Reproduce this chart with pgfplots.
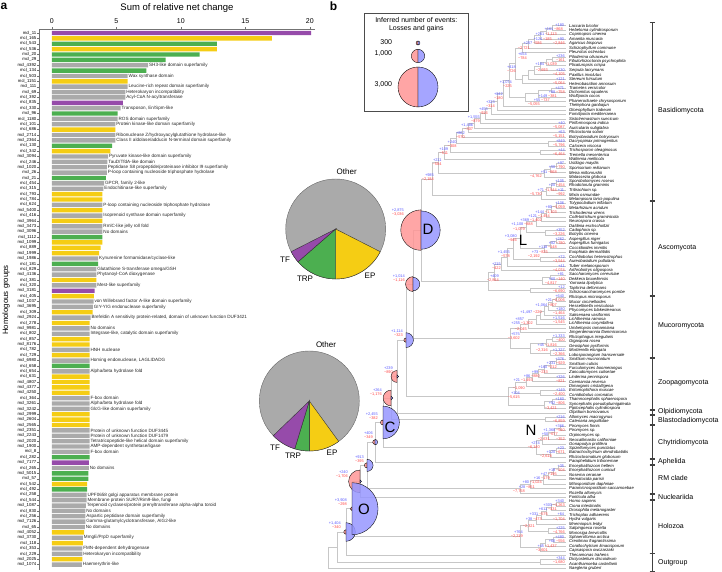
\documentclass[border=0pt]{standalone}
\usepackage{pgfplots}
\pgfplotsset{compat=1.18}
\usepackage{fontspec}
\setmainfont{Liberation Sans}
\definecolor{cP}{RGB}{150,75,170}
\definecolor{cY}{RGB}{245,205,20}
\definecolor{cG}{RGB}{76,175,80}
\definecolor{cGr}{RGB}{170,170,170}
\definecolor{pieR}{RGB}{255,150,150}
\definecolor{pieB}{RGB}{150,150,255}
\definecolor{txB}{RGB}{90,90,255}
\definecolor{txR}{RGB}{255,70,70}
\newcommand\fs[1]{\fontsize{#1}{#1}\selectfont}
\newcommand\ty[1]{\csname tipy#1\endcsname}
\def\TX{566}
\tikzset{tree/.style={draw=black!22,line width=0.5pt}}
\newcommand\clade[3]{%
  \xdef\cy{#1}\xdef\cx{#2}%
  \foreach \uy/\ux/\jx in {#3}{%
    \draw[tree] (\jx,\cy) -- (\cx,\cy);
    \draw[tree] (\jx,\uy) -- (\ux,\uy);
    \draw[tree] (\jx,\cy) -- (\jx,\uy);
    \pgfmathsetmacro\ny{(\cy+\uy)/2}%
    \coordinate (j\jx) at (\jx,\ny);
    \xdef\cy{\ny}\xdef\cx{\jx}%
  }%
}
\newcommand\save[1]{\expandafter\xdef\csname #1Y\endcsname{\cy}\expandafter\xdef\csname #1X\endcsname{\cx}}
\newcommand\nl[4]{\node[anchor=east,inner sep=0pt,text=txB,font=\fs{3.9}] at (#1,#2) {#3};\node[anchor=east,inner sep=0pt,text=txR,font=\fs{3.9}] at (#1,#2+4.2) {#4};}
\newcommand\nlh[4]{\node[anchor=east,inner sep=0pt,font=\fs{3.9}] at (#1,#2) {\textcolor{txB}{#3}\,\textcolor{txR}{#4}};}
\newcommand\npie[3]{%
  \pgfmathsetmacro\rl{#3/150}\pgfmathsetmacro\rg{#2/150}%
  \filldraw[fill=pieR,draw=black,line width=0.35pt,fill opacity=0.85] (#1) -- ++(90:{\rl pt}) arc[start angle=90,end angle=270,radius={\rl pt}] -- cycle;
  \filldraw[fill=pieB,draw=black,line width=0.35pt,fill opacity=0.85] (#1) -- ++(-90:{\rg pt}) arc[start angle=-90,end angle=90,radius={\rg pt}] -- cycle;
}
\newcommand\bpie[5]{%
  \pgfmathsetmacro\aE{-90+#3*3.6}\pgfmathsetmacro\aT{-90-#4*3.6}\pgfmathsetmacro\aF{\aT-#5*3.6}%
  \filldraw[fill=cGr,draw=black!60,line width=0.4pt] (#1,#2) circle[radius=50pt];
  \filldraw[fill=cY,draw=black!80,line width=0.4pt] (#1,#2) -- ++(-90:50pt) arc[start angle=-90,end angle=\aE,radius=50pt] -- cycle;
  \filldraw[fill=cG,draw=black!80,line width=0.4pt] (#1,#2) -- ++(\aT:50pt) arc[start angle=\aT,end angle=-90,radius=50pt] -- cycle;
  \filldraw[fill=cP,draw=black!80,line width=0.4pt] (#1,#2) -- ++(\aF:50pt) arc[start angle=\aF,end angle=\aT,radius=50pt] -- cycle;
}
\newcommand\brk[4]{%
  \draw[black!75,line width=0.6pt] (652,#1) -- (652,#2) (649.5,#1) -- (654.5,#1) (649.5,#2) -- (654.5,#2);
  \node[anchor=west,font=\fs{7},inner sep=0pt] at (658,#4) {#3};}
\begin{document}
\begin{tikzpicture}
\useasboundingbox (0,0) rectangle (722pt,572pt);
\begin{axis}[
  at={(39pt,2pt)}, anchor=south west,
  scale only axis, width=276pt, height=540.7pt,
  xmin=-1, xmax=20.4, ymin=-101, ymax=-0.31,
  axis x line*=top, axis y line*=left,
  xtick={0,5,10,15,20},
  ytick={-1,-2,...,-100},
  yticklabels={mcl\_11,mcl\_165,mcl\_543,mcl\_536,mcl\_20,mcl\_29,mcl\_4392,mcl\_134,mcl\_503,mcl\_1151,mcl\_111,mcl\_69,mcl\_392,mcl\_835,mcl\_330,mcl\_96,mcl\_1180,mcl\_101,mcl\_686,mcl\_2714,mcl\_2364,mcl\_130,mcl\_342,mcl\_3094,mcl\_246,mcl\_1020,mcl\_26,mcl\_21,mcl\_454,mcl\_315,mcl\_793,mcl\_784,mcl\_624,mcl\_5400,mcl\_416,mcl\_3964,mcl\_3473,mcl\_3096,mcl\_1112,mcl\_1099,mcl\_889,mcl\_1999,mcl\_1986,mcl\_181,mcl\_829,mcl\_4136,mcl\_381,mcl\_320,mcl\_3181,mcl\_405,mcl\_1037,mcl\_3695,mcl\_309,mcl\_2924,mcl\_278,mcl\_9981,mcl\_802,mcl\_857,mcl\_8176,mcl\_782,mcl\_729,mcl\_6980,mcl\_658,mcl\_654,mcl\_631,mcl\_4807,mcl\_4377,mcl\_4250,mcl\_364,mcl\_3261,mcl\_3242,mcl\_2999,mcl\_2604,mcl\_2565,mcl\_2351,mcl\_2243,mcl\_2020,mcl\_1900,mcl\_8,mcl\_282,mcl\_7177,mcl\_265,mcl\_5015,mcl\_57,mcl\_542,mcl\_492,mcl\_258,mcl\_544,mcl\_1087,mcl\_830,mcl\_256,mcl\_7126,mcl\_65,mcl\_4052,mcl\_3730,mcl\_118,mcl\_353,mcl\_229,mcl\_2025,mcl\_1074},
  tick align=outside, major tick length=2pt,
  xticklabel style={font=\fs{7}},
  yticklabel style={font=\fs{4.3}, inner sep=0.5pt},
  /pgf/number format/assume math mode=true,
  axis line style={black!55, line width=0.4pt},
  tick style={black!55, line width=0.35pt},
  clip=false,
]
\addplot[xbar, bar width=4.4pt, bar shift=0pt, fill=cP, draw=none] coordinates {(20.1,-1) (5.51,-14) (3.31,-49) (2.87,-81)};
\addplot[xbar, bar width=4.4pt, bar shift=0pt, fill=cY, draw=none] coordinates {(17.05,-2) (12.8,-4) (5.87,-10) (4.92,-19) (4.54,-23) (3.92,-31) (3.92,-32) (3.92,-34) (3.92,-36) (3.92,-40) (3.77,-41) (3.67,-42) (3.44,-47) (3.26,-50) (3.15,-53) (2.92,-55) (2.92,-58) (2.92,-59) (2.92,-61) (2.92,-65) (2.92,-66) (2.92,-67) (2.92,-68) (2.92,-72) (2.92,-73) (2.92,-74) (2.74,-85) (2.49,-94) (2.41,-96) (2.36,-99)};
\addplot[xbar, bar width=4.4pt, bar shift=0pt, fill=cG, draw=none] coordinates {(12.8,-3) (11.46,-5) (8.82,-6) (7.33,-8) (5.1,-16) (4.67,-22) (4.18,-28) (3.92,-39) (3.59,-44) (2.92,-63) (2.92,-80) (2.82,-83) (2.82,-84) (2.74,-86)};
\addplot[xbar, bar width=4.4pt, bar shift=0pt, fill=cGr, draw=none, point meta=explicit symbolic, nodes near coords, nodes near coords style={anchor=west, font=\fs{4.6}, inner sep=0.8pt, text=black!85}] coordinates {
(7.46,-7) [SH3-like domain superfamily]
(5.87,-9) [Wax synthase domain]
(5.87,-11) [Leucine-rich repeat domain superfamily]
(5.69,-12) [Heterokaryon incompatibility]
(5.69,-13) [Acyl-CoA N-acyltransferase]
(5.33,-15) [Transposon, En/Spm-like]
(5.1,-17) [ROS domain superfamily]
(4.92,-18) [Protein kinase-like domain superfamily]
(4.92,-20) [Ribonuclease Z/hydroxyacylglutathione hydrolase-like]
(4.92,-21) [Class II aldolase/adducin N-terminal domain superfamily]
(4.36,-24) [Pyruvate kinase-like domain superfamily]
(4.31,-25) [TauD/TfdA-like domain]
(4.26,-26) [Peptidase S8 propeptide/proteinase inhibitor I9 superfamily]
(4.26,-27) [P-loop containing nucleoside triphosphate hydrolase]
(4.05,-29) [GPCR, family 2-like]
(4.0,-30) [Endochitinase-like superfamily]
(3.92,-33) [P-loop containing nucleoside triphosphate hydrolase]
(3.92,-35) [Isoprenoid synthase domain superfamily]
(3.92,-37) [RmlC-like jelly roll fold]
(3.92,-38) [No domains]
(3.59,-43) [Kynurenine formamidase/cyclase-like]
(3.44,-45) [Glutathione S-transferase omega/GSH]
(3.44,-46) [Phytanoyl-CoA dioxygenase]
(3.44,-48) [Mest-like superfamily]
(3.23,-51) [von Willebrand factor A-like domain superfamily]
(3.18,-52) [GIY-YIG endonuclease superfamily]
(3.0,-54) [Brefeldin A sensitivity protein-related, domain of unknown function DUF3421]
(2.92,-56) [No domains]
(2.92,-57) [Integrase-like, catalytic domain superfamily]
(2.92,-60) [HNH nuclease]
(2.92,-62) [Homing endonuclease, LAGLIDADG]
(2.92,-64) [Alpha/beta hydrolase fold]
(2.92,-69) [F-box domain]
(2.92,-70) [Alpha/beta hydrolase fold]
(2.92,-71) [GlcG-like domain superfamily]
(2.92,-75) [Protein of unknown function DUF3445]
(2.92,-76) [Protein of unknown function DUF1479]
(2.92,-77) [Tetratricopeptide-like helical domain superfamily]
(2.92,-78) [AMP-dependent synthetase/ligase]
(2.92,-79) [F-box domain]
(2.87,-82) [No domains]
(2.69,-87) [UPF0658 golgi apparatus membrane protein]
(2.69,-88) [Membrane protein SUR7/Rim9-like, fungi]
(2.64,-89) [Terpenoid cyclases/protein prenyltransferase alpha-alpha toroid]
(2.59,-90) [No domains]
(2.59,-91) [Aspartic peptidase domain superfamily]
(2.59,-92) [Gamma-glutamylcyclotransferase, AIG2-like]
(2.56,-93) [No domains]
(2.41,-95) [MmgE/PrpD superfamily]
(2.36,-97) [FMN-dependent dehydrogenase]
(2.36,-98) [Heterokaryon incompatibility]
(2.33,-100) [Haemerythrin-like]
};
\end{axis}
\begin{scope}[x=1pt,y=-1pt,yshift=572pt]
\foreach \i in {1,...,123}{\pgfmathsetmacro\t{25.7+(\i-1)*4.45}\expandafter\xdef\csname tipy\i\endcsname{\t}}
% ---- panel a texts and pies
\node[font=\fs{12}\bfseries,inner sep=0pt] at (4,6.5) {a};
\node[font=\fs{9.5},inner sep=0pt] at (177,8) {Sum of relative net change};
\node[font=\fs{7.8},rotate=90,inner sep=0pt] at (6,300) {Homologous groups};
\bpie{335.7}{229}{17.5}{13.6}{3.9}
\bpie{309.3}{401}{10}{4.7}{8.1}
\node[font=\fs{8},inner sep=0pt] at (346.7,172) {Other};
\node[font=\fs{8},inner sep=0pt] at (285,260) {TF};
\node[font=\fs{8},inner sep=0pt] at (305,279) {TRP};
\node[font=\fs{8},inner sep=0pt] at (370,276) {EP};
\node[font=\fs{8},inner sep=0pt] at (326,345) {Other};
\node[font=\fs{8},inner sep=0pt] at (275,448) {TF};
\node[font=\fs{8},inner sep=0pt] at (293,456) {TRP};
\node[font=\fs{8},inner sep=0pt] at (332,453) {EP};
% ---- panel b
\node[font=\fs{12}\bfseries,inner sep=0pt] at (333.5,6) {b};
% Basidiomycota
\clade{\ty{1}}{\TX}{\ty{2}/\TX/552, \ty{3}/\TX/546, \ty{4}/\TX/540, \ty{5}/\TX/534, \ty{6}/\TX/528, \ty{7}/\TX/522}\save{Aga}
\clade{\ty{8}}{\TX}{\ty{9}/\TX/552, \ty{10}/\TX/546, \ty{11}/\TX/540, \ty{12}/\TX/534, \ty{13}/\TX/528, \ty{14}/\TX/522}\save{Ge}
\clade{\ty{15}}{\TX}{\ty{16}/\TX/551, \ty{17}/\TX/538, \ty{18}/\TX/525}\save{Gf}
\clade{\AgaY}{\AgaX}{\GeY/\GeX/515, \GfY/\GfX/509, \ty{19}/\TX/503, \ty{20}/\TX/497, \ty{21}/\TX/491, \ty{22}/\TX/485}\save{Am}
\clade{\ty{27}}{\TX}{\ty{28}/\TX/548}\save{Da}
\clade{\ty{29}}{\TX}{\ty{30}/\TX/540}\save{Tr}
\clade{\ty{32}}{\TX}{\ty{33}/\TX/556, \ty{34}/\TX/550, \ty{35}/\TX/544}\save{Us}
\clade{\ty{36}}{\TX}{\ty{37}/\TX/556, \ty{38}/\TX/551, \ty{39}/\TX/546, \ty{40}/\TX/541}\save{Pu}
\clade{\AmY}{\AmX}{\ty{23}/\TX/480, \ty{24}/\TX/474, \ty{25}/\TX/468, \ty{26}/\TX/462, \DaY/\DaX/456, \TrY/\TrX/450, \ty{31}/\TX/444, \UsY/\UsX/438, \PuY/\PuX/432}\save{Ba}
% Ascomycota
\clade{\ty{41}}{\TX}{\ty{42}/\TX/556, \ty{43}/\TX/551, \ty{44}/\TX/546, \ty{45}/\TX/541, \ty{46}/\TX/536}\save{So}
\clade{\ty{47}}{\TX}{\ty{48}/\TX/545}\save{Le}
\clade{\ty{49}}{\TX}{\ty{50}/\TX/556, \ty{51}/\TX/550, \ty{52}/\TX/544}\save{Eu}
\clade{\ty{53}}{\TX}{\ty{54}/\TX/540}\save{Do}
\clade{\ty{57}}{\TX}{\ty{58}/\TX/550, \ty{59}/\TX/542}\save{Sc}
\clade{\ty{60}}{\TX}{\ty{61}/\TX/530}\save{Ta}
\clade{\SoY}{\SoX}{\LeY/\LeX/526, \EuY/\EuX/520, \DoY/\DoX/513, \ty{55}/\TX/507, \ty{56}/\TX/501, \ScY/\ScX/494, \TaY/\TaX/488}\save{As}
% Mucoromycota
\clade{\ty{62}}{\TX}{\ty{63}/\TX/556, \ty{64}/\TX/552, \ty{65}/\TX/548, \ty{66}/\TX/544, \ty{67}/\TX/540, \ty{68}/\TX/536}\save{Mc}
\clade{\ty{71}}{\TX}{\ty{72}/\TX/552, \ty{73}/\TX/546}\save{Gl}
\clade{\ty{74}}{\TX}{\ty{75}/\TX/550}\save{Mo}
\clade{\GlY}{\GlX}{\MoY/\MoX/530}\save{Gm}
\clade{\McY}{\McX}{\ty{69}/\TX/528, \ty{70}/\TX/520, \GmY/\GmX/510}\save{Mu}
% Zoopagomycota
\clade{\ty{76}}{\TX}{\ty{77}/\TX/556, \ty{78}/\TX/550, \ty{79}/\TX/544, \ty{80}/\TX/538, \ty{81}/\TX/532, \ty{82}/\TX/526}\save{Ki}
\clade{\ty{83}}{\TX}{\ty{84}/\TX/540}\save{En}
\clade{\ty{85}}{\TX}{\ty{86}/\TX/552, \ty{87}/\TX/544}\save{Zp}
\clade{\KiY}{\KiX}{\EnY/\EnX/515, \ZpY/\ZpX/508}\save{Zo}
% Blasto, Chytrid, RM, Holozoa, Amoebozoa
\clade{\ty{89}}{\TX}{\ty{90}/\TX/545}\save{Bl}
\clade{\ty{91}}{\TX}{\ty{92}/\TX/560, \ty{93}/\TX/554, \ty{94}/\TX/548}\save{Ne}
\clade{\ty{96}}{\TX}{\ty{97}/\TX/556, \ty{98}/\TX/550}\save{Ch}
\clade{\NeY}{\NeX}{\ty{95}/\TX/542, \ChY/\ChX/536}\save{Ct}
\clade{\ty{100}}{\TX}{\ty{101}/\TX/558, \ty{102}/\TX/553, \ty{103}/\TX/548, \ty{104}/\TX/543}\save{Mi}
\clade{\MiY}{\MiX}{\ty{105}/\TX/530, \ty{106}/\TX/520}\save{Rm}
\clade{\ty{108}}{\TX}{\ty{109}/\TX/556, \ty{110}/\TX/551, \ty{111}/\TX/546, \ty{112}/\TX/541, \ty{113}/\TX/536}\save{Mz}
\clade{\ty{114}}{\TX}{\ty{115}/\TX/548}\save{Co}
\clade{\ty{116}}{\TX}{\ty{117}/\TX/553, \ty{118}/\TX/545}\save{Ic}
\clade{\IcY}{\IcX}{\ty{119}/\TX/540}\save{If}
\clade{\MzY}{\MzX}{\CoY/\CoX/528, \IfY/\IfX/520}\save{Ho}
\clade{\ty{121}}{\TX}{\ty{122}/\TX/540}\save{Amb}
% backbone
\clade{\BaY}{\BaX}{\AsY/\AsX/421, \MuY/\MuX/413, \ZoY/\ZoX/406, \ty{88}/\TX/397, \BlY/\BlX/391, \CtY/\CtX/383, \ty{99}/\TX/375, \RmY/\RmX/367, \ty{107}/\TX/360, \HoY/\HoX/352, \ty{120}/\TX/346, \AmbY/\AmbX/337, \ty{123}/\TX/328}
% pies
\npie{j421}{2875}{3036}
\npie{j413}{1014}{1116}
\npie{j406}{1114}{323}
\npie{j397}{239}{890}
\npie{j391}{264}{1176}
\npie{j383}{2455}{382}
\npie{j375}{406}{349}
\npie{j367}{913}{395}
\npie{j360}{240}{1706}
\npie{j346}{1404}{340}
\npie{j352}{3908}{298}
\node[font=\fs{15},inner sep=0pt] at (428,229) {D};
\node[font=\fs{15},inner sep=0pt] at (390,427) {C};
\node[font=\fs{15},inner sep=0pt] at (364,509) {O};
\node[font=\fs{15},inner sep=0pt] at (523,240) {L};
\node[font=\fs{15},inner sep=0pt] at (531,430) {N};
% backbone labels
\nl{404}{210}{+2,875}{−3,036}
\nl{405}{276}{+1,014}{−1,116}
\nl{403}{331}{+1,114}{−323}
\nl{393}{368}{+239}{−890}
\nl{382}{390}{+264}{−1,176}
\nl{378}{414}{+2,455}{−382}
\nl{373}{433}{+406}{−349}
\nl{364}{457}{+913}{−395}
\nl{348}{472}{+240}{−1,706}
\nl{347}{500}{+3,908}{−298}
\nl{341}{523}{+1,404}{−340}
% Basidiomycota internal labels
\nl{434}{175}{+985}{−2,184}
\nl{441.7}{160}{+211}{−584}
\nl{448.3}{149}{+109}{−511}
\nl{456.7}{142}{+240}{−308}
\nl{465}{133}{+862}{−570}
\nl{473.3}{125}{+1,486}{−307}
\nl{480}{117}{+1,555}{−879}
\nl{488}{109}{+455}{−916}
\nl{495}{102}{+323}{−314}
\nl{503}{94}{+842}{−180}
\nl{512}{82}{+1,074}{−225}
\nl{516}{67}{+418}{−726}
\nl{527}{54}{+654}{−784}
\nlh{565}{25}{+180}{}
\nlh{563}{29.5}{+161}{−868}
\nlh{557}{34}{+261}{−1,113}
\nlh{552}{39}{+124}{−185}
\nlh{565}{39}{+90}{}
\nlh{565}{43}{}{−2,846}
\nlh{542}{43}{+257}{−586}
\nlh{530}{48}{}{−2,721}
\nl{565}{56}{+236}{−161}
\nlh{557}{64.5}{+194}{−1,039}
\nlh{548}{70}{}{−2,693}
\nl{565}{70}{+130}{−4,105}
\nl{565}{79}{+121}{−5,064}
\nlh{565}{88}{+471}{}
\nlh{565}{92}{+88}{−758}
\nlh{557}{96}{+149}{−381}
\nlh{550}{100}{+55}{−737}
\nlh{540}{104}{}{−5,055}
\nl{565}{123}{+40}{−5,087}
\nl{565}{132}{+63}{−5,151}
\nl{565}{141}{+849}{−5,796}
\nl{565}{150}{+44}{−6,464}
\nlh{565}{163}{+97}{}
\nlh{565}{167}{+50}{−790}
\nlh{557}{172}{+51}{−868}
\nlh{542}{176}{}{−4,762}
\nlh{565}{181}{+105}{}
\nlh{565}{185}{+20}{−454}
\nlh{557}{190}{+71}{−1,544}
\nlh{565}{190}{+11}{}
\nlh{542}{194}{}{−5,730}
\nlh{565}{194}{}{−992}
% Ascomycota labels
\nlh{565}{203}{+106}{}
\nlh{565}{207}{+80}{−1,059}
\nlh{557}{212}{+144}{−1,103}
\nlh{550}{216}{+121}{−1,454}
\nlh{542}{220}{+369}{−1,402}
\nlh{533}{224}{+1,108}{−888}
\nlh{525}{229}{}{−1,079}
\nl{565}{230}{+352}{−3,226}
\nl{517}{236}{+3,080}{−946}
\nlh{565}{239}{+262}{}
\nlh{565}{243}{+82}{−780}
\nlh{557}{247}{+118}{−148}
\nlh{548}{252}{+73}{−825}
\nlh{540}{256}{}{−2,192}
\nl{510}{252}{+1,455}{−578}
\nl{565}{257}{+72}{−3,544}
\nl{565}{266}{+41}{−4,074}
\nl{501}{264}{+215}{−422}
\nlh{565}{274}{+81}{}
\nlh{565}{279}{+60}{−140}
\nlh{557}{283}{}{−4,817}
\nl{499}{276}{+409}{−2,844}
\nl{565}{287}{+12}{−6,690}
% Mucoromycota labels
\nlh{565}{296}{+640}{}
\nlh{565}{300}{+21}{−2,006}
\nlh{557}{305}{+1,064}{−807}
\nl{565}{309}{+180}{−1,464}
\nlh{542}{312}{+1,497}{−220}
\nl{565}{318}{+1,516}{−1,545}
\nlh{525}{319}{+857}{}
\nlh{533}{323}{+255}{−1,302}
\nlh{527}{329}{}{−2,045}
\nl{520}{334}{+575}{−3,602}
\nl{565}{336}{+1,333}{−400}
\nlh{557}{345}{+45}{−1,816}
\nlh{548}{350}{}{−2,316}
\nl{565}{350}{+1,327}{−2,366}
% Zoopagomycota labels
\nlh{565}{359}{+376}{}
\nlh{565}{363}{+231}{−929}
\nlh{557}{367}{+160}{−212}
\nlh{548}{372}{+99}{−233}
\nlh{540}{376}{+86}{−880}
\nl{565}{377}{+326}{−821}
\nlh{533}{380}{+21}{−1,493}
\nlh{525}{388}{}{−1,090}
\nl{520}{393}{+104}{−5,615}
\nl{565}{390}{+149}{−2,400}
\nlh{565}{399}{+160}{}
\nlh{565}{403}{+52}{−806}
\nlh{557}{408}{}{−3,421}
\nl{565}{417}{+216}{−6,859}
% Chytridiomycota labels
\nlh{565}{426}{+366}{}
\nlh{565}{430}{+1,368}{−540}
\nlh{558}{434.5}{+50}{−677}
\nlh{550}{439}{}{−2,631}
\nlh{565}{439}{}{−352}
\nl{540}{443}{+274}{−6,140}
\nlh{565}{448}{+23}{}
\nlh{565}{452}{+120}{−671}
\nlh{552}{456}{}{−2,618}
% RM labels
\nlh{565}{466}{+35}{}
\nlh{565}{470}{+19}{−104}
\nlh{557}{474}{+47}{−195}
\nlh{550}{478}{+16}{−179}
\nlh{542}{482}{+80}{−1,024}
\nlh{535}{487}{+28}{−851}
\nlh{525}{491}{}{−7,758}
% Holozoa labels
\nlh{565}{501}{+340}{}
\nlh{565}{505}{+303}{−1,263}
\nlh{557}{509}{+611}{−431}
\nlh{548}{514}{+331}{−575}
\nlh{565}{514}{+64}{}
\nlh{542}{519}{+38}{−473}
\nlh{565}{519}{}{−1,704}
\nlh{535}{526}{}{−2,321}
\nl{565}{528}{+225}{−4,766}
\nl{523}{532}{+764}{−2,219}
\nlh{565}{537}{+480}{}
\nlh{565}{541}{+60}{−556}
\nlh{557}{546}{+45}{−1,437}
\nlh{548}{550}{}{−3,601}
\nl{565}{558}{+344}{−1,680}
% species names
\foreach \n [count=\i] in {Laccaria bicolor, Hebeloma cylindrosporum, Coprinopsis cinerea, Amanita muscaria, Agaricus bisporus, Schizophyllum commune, Pleurotus ostreatus, Piloderma olivaceum, Fibulorhizoctonia psychrophila, Plicaturopsis crispa, Serpula lacrymans, Paxillus involutus, Stereum hirsutum, Heterobasidion annosum, Trametes versicolor, Dichomitus squalens, Wolfiporia cocos, Phanerochaete chrysosporium, Thelephora ganbajun, Gloeophyllum trabeum, Fomitiporia mediterranea, Sistotremastrum suecicum, Piriformospora indica, Auricularia subglabra, Rhizoctonia solani, Botryobasidium botryosum, Dacryopinax primogenitus, Calocera viscosa, Trichosporon oleaginosus, Tremella mesenterica, Wallemia mellicola, Ustilago maydis, Sporisorium reilianum, Meira miltonrushii, Malassezia globosa, Sporobolomyces roseus, Rhodotorula graminis, Tritirachium sp., Mixia osmundae, Melampsora larici-populina, Tolypocladium inflatum, Metarhizium acridum, Trichoderma virens, Colletotrichum graminicola, Neurospora crassa, Daldinia eschscholtzii, Cadophora sp., Botrytis cinerea, Aspergillus niger, Aspergillus fumigatus, Coccidioides immitis, Exophiala dermatitidis, Cochliobolus heterostrophus, Aureobasidium pullulans, Tuber melanosporum, Arthrobotrys oligospora, Saccharomyces cerevisiae, Dekkera bruxellensis, Yarrowia lipolytica, Taphrina deformans, Schizosaccharomyces pombe, Rhizopus microsporus, Mucor circinelloides, Hesseltinella vesiculosa, Phycomyces blakesleeanus, Saksenaea vasiformis, Lichtheimia ramosa, Lichtheimia corymbifera, Umbelopsis ramanniana, Jimgerdemannia flammicorona, Rhizophagus irregularis, Gigaspora rosea, Geosiphon pyriformis, Mortierella elongata, Lobosporangium transversale, Smittium mucronatum, Smittium culicis, Furculomyces boomerangus, Zancudomyces culisetae, Linderina pennispora, Coemansia reversa, Dimargaris cristalligena, Entomophthora muscae, Conidiobolus coronatus, Thamnocephalis sphaerospora, Syncephalis pseudoplumigaleata, Piptocephalis cylindrospora, Olpidium bornovanus, Allomyces macrogynus, Catenaria anguillulae, Piromyces finnis, Piromyces sp., Orpinomyces sp., Neocallimastix californiae, Gonapodya prolifera, Spizellomyces punctatus, Batrachochytrium dendrobatidis, Rhizoclosmatium globosum, Paraphelidium tribonemae, Encephalitozoon hellem, Encephalitozoon cuniculi, Nosema ceranae, Nematocida parisii, Mitosporidium daphniae, Paramicrosporidium saccamoebae, Rozella allomycis, Fonticula alba, Homo sapiens, Ciona intestinalis, Drosophila melanogaster, Trichoplax adhaerens, Hydra vulgaris, Mnemiopsis leidyi, Salpingoeca rosetta, Monosiga brevicollis, Sphaeroforma arctica, Creolimax fragrantissima, Corallochytrium limacisporum, Capsaspora owczarzaki, Thecamonas trahens, Dictyostelium discoideum, Acanthamoeba castellanii, Naegleria gruberi}{\node[anchor=west,inner sep=0pt,font=\fs{4.2}\itshape] at (569,\ty{\i}) {\n};}
% brackets
\brk{22.5}{200.5}{Basidiomycota}{111}
\brk{201.5}{295.5}{Ascomycota}{248}
\brk{296.5}{357}{Mucoromycota}{326}
\brk{358}{409}{Zoopagomycota}{383}
\brk{410}{414.5}{Olpidiomycota}{412}
\brk{415}{424}{Blastocladiomycota}{420.5}
\brk{425}{458}{Chytridiomycota}{443}
\brk{459}{464}{Aphelida}{461.5}
\brk{465}{493}{RM clade}{478.5}
\brk{494}{499.5}{Nucleariida}{497}
\brk{500}{553}{Holozoa}{526}
\brk{553.5}{571}{Outgroup}{563}
% legend
\draw[black!70,line width=0.6pt,fill=white] (364.3,13.3) rectangle (468.3,111);
\node[font=\fs{7},inner sep=0pt] at (416.3,20) {Inferred number of events:};
\node[font=\fs{7},inner sep=0pt] at (416.3,29) {Losses and gains};
\coordinate (L1) at (418,43);\coordinate (L2) at (418,56);\coordinate (L3) at (418,87);
\npie{L1}{300}{300}
\npie{L2}{1000}{1000}
\npie{L3}{3000}{3000}
\node[font=\fs{7},anchor=east,inner sep=0pt] at (392.3,42) {300};
\node[font=\fs{7},anchor=east,inner sep=0pt] at (392.3,54) {1,000};
\node[font=\fs{7},anchor=east,inner sep=0pt] at (392.3,85) {3,000};
\end{scope}
\end{tikzpicture}
\end{document}
